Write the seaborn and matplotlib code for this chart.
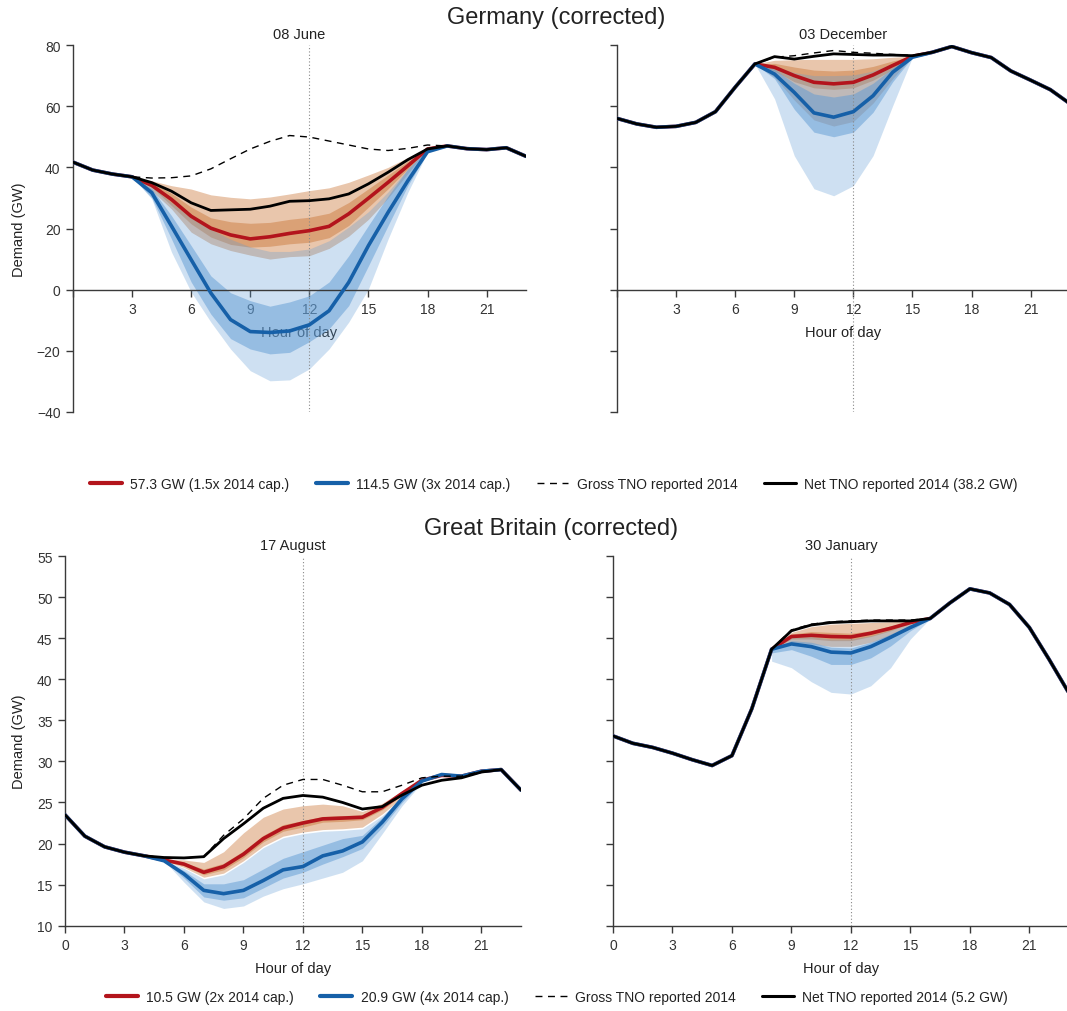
import numpy as np
import pandas as pd
import matplotlib.pyplot as plt
import seaborn as sns
from matplotlib.lines import Line2D

sns.set_style('ticks')
plt.rcParams['font.family'] = ['Liberation Sans', 'DejaVu Sans']
plt.rcParams['text.color'] = '#222222'
plt.rcParams['axes.labelcolor'] = '#222222'
plt.rcParams['xtick.color'] = '#333333'
plt.rcParams['ytick.color'] = '#333333'

hours = list(range(24))

# --- Germany, 08 June ---
de_jun_net = [41.7, 39.1, 37.8, 36.9, 35.0, 32.2, 28.4, 25.9, 26.1, 26.3, 27.3, 28.9,
              29.1, 29.7, 31.3, 34.6, 38.4, 42.5, 46.0, 47.0, 46.1, 45.8, 46.4, 43.6]
de_jun_gross = [41.7, 39.1, 37.8, 36.9, 36.5, 36.6, 37.2, 39.5, 42.8, 46.0, 48.5, 50.4,
                49.9, 48.6, 47.3, 46.0, 45.5, 46.2, 47.3, 47.0, 46.1, 45.8, 46.4, 43.6]
de_jun_red = [41.7, 39.1, 37.8, 36.9, 34.1, 29.5, 24.0, 20.1, 17.9, 16.6, 17.3, 18.4,
              19.3, 20.7, 24.8, 29.9, 35.1, 40.5, 46.0, 47.0, 46.1, 45.8, 46.4, 43.6]
de_jun_blue = [41.7, 39.1, 37.8, 36.9, 31.7, 20.8, 9.8, -1.1, -9.8, -13.7, -14.0, -13.5,
               -11.5, -6.9, 2.4, 14.4, 25.3, 35.6, 45.1, 47.0, 46.1, 45.8, 46.4, 43.6]
de_jun_band_hours = list(range(3, 19))
de_jun_red_outer_hi = [36.9, 35.6, 34.0, 32.9, 31.0, 30.2, 29.7, 30.3, 31.3, 32.4, 33.3, 35.1, 37.5, 40.0, 43.2, 46.0]
de_jun_red_inner_hi = [36.9, 35.0, 31.5, 27.0, 23.5, 22.2, 21.7, 22.0, 23.0, 23.7, 25.0, 28.5, 33.0, 37.5, 42.0, 46.0]
de_jun_red_inner_lo = [36.9, 33.5, 27.5, 21.5, 17.2, 14.8, 13.9, 14.2, 15.0, 15.5, 17.0, 21.0, 27.0, 33.0, 39.5, 46.0]
de_jun_red_outer_lo = [36.9, 32.4, 26.4, 18.8, 15.0, 12.8, 11.3, 10.0, 10.8, 11.1, 13.5, 17.5, 23.0, 30.0, 38.0, 46.0]
de_jun_blue_outer_hi = [36.9, 33.8, 28.5, 23.5, 19.8, 16.5, 14.0, 12.5, 12.5, 13.3, 16.0, 20.5, 25.5, 32.0, 39.5, 46.0]
de_jun_blue_inner_hi = [36.9, 33.0, 24.2, 14.4, 4.5, -1.0, -3.6, -5.4, -4.0, -2.0, 2.5, 11.1, 21.0, 30.7, 39.5, 46.0]
de_jun_blue_inner_lo = [36.9, 30.0, 16.6, 2.5, -8.0, -16.0, -19.4, -21.0, -20.5, -17.0, -12.8, -5.2, 7.8, 21.0, 34.0, 45.0]
de_jun_blue_outer_lo = [36.9, 29.7, 12.3, -0.8, -10.6, -19.4, -26.5, -29.8, -29.5, -25.9, -19.4, -10.6, 0.2, 16.6, 31.8, 45.0]

# --- Germany, 03 December ---
de_dec_net = [56.0, 54.2, 53.1, 53.4, 54.7, 58.2, 66.2, 73.8, 76.2, 75.4, 76.3, 77.1,
              76.9, 76.7, 76.7, 76.5, 77.6, 79.5, 77.5, 75.9, 71.5, 68.5, 65.4, 60.8]
de_dec_gross = [56.0, 54.2, 53.1, 53.4, 54.7, 58.2, 66.2, 73.8, 76.0, 76.5, 77.4, 78.2,
                77.6, 77.3, 76.9, 76.6, 77.6, 79.5, 77.5, 75.9, 71.5, 68.5, 65.4, 60.8]
de_dec_red = [56.0, 54.2, 53.1, 53.4, 54.7, 58.2, 66.2, 73.8, 72.7, 70.0, 67.8, 67.3,
              67.8, 70.2, 73.3, 76.3, 77.6, 79.5, 77.5, 75.9, 71.5, 68.5, 65.4, 60.8]
de_dec_blue = [56.0, 54.2, 53.1, 53.4, 54.7, 58.2, 66.2, 73.8, 70.5, 64.5, 57.8, 56.4,
               58.2, 63.4, 71.1, 76.0, 77.6, 79.5, 77.5, 75.9, 71.5, 68.5, 65.4, 60.8]
de_dec_band_hours = list(range(7, 16))
de_dec_red_outer_hi = [73.8, 75.0, 75.2, 75.3, 75.3, 75.3, 75.5, 76.0, 76.3]
de_dec_red_inner_hi = [73.8, 74.0, 72.8, 71.8, 71.5, 71.8, 73.0, 74.8, 76.3]
de_dec_red_inner_lo = [73.8, 71.5, 68.0, 66.0, 65.5, 66.0, 68.5, 72.0, 76.3]
de_dec_red_outer_lo = [73.8, 69.5, 62.0, 55.5, 53.5, 55.0, 61.0, 69.0, 76.3]
de_dec_blue_outer_hi = [73.8, 73.0, 71.0, 70.0, 70.0, 70.2, 71.5, 74.0, 76.3]
de_dec_blue_inner_hi = [73.8, 72.0, 67.5, 64.0, 63.0, 64.0, 67.5, 72.5, 76.2]
de_dec_blue_inner_lo = [73.8, 69.0, 59.0, 51.5, 50.0, 51.5, 58.0, 68.0, 76.0]
de_dec_blue_outer_lo = [73.8, 62.4, 43.8, 33.0, 30.7, 34.0, 43.8, 60.2, 76.0]

# --- Great Britain, 17 August ---
gb_aug_net = [23.5, 20.9, 19.6, 18.95, 18.5, 18.3, 18.25, 18.4, 20.6, 22.4, 24.3, 25.5,
              25.85, 25.65, 25.0, 24.2, 24.5, 25.9, 27.1, 27.7, 28.0, 28.7, 29.0, 26.5]
gb_aug_gross = [23.5, 20.9, 19.6, 18.95, 18.5, 18.3, 18.25, 18.4, 21.0, 23.0, 25.5, 27.1,
                27.8, 27.8, 27.1, 26.3, 26.3, 27.1, 28.0, 28.2, 28.2, 28.8, 29.0, 26.5]
gb_aug_red = [23.5, 20.9, 19.6, 18.95, 18.5, 18.0, 17.5, 16.5, 17.2, 18.7, 20.6, 21.9,
              22.5, 23.0, 23.1, 23.2, 24.4, 26.1, 27.7, 28.3, 28.2, 28.8, 29.0, 26.5]
gb_aug_blue = [23.5, 20.9, 19.6, 18.95, 18.5, 17.9, 16.3, 14.3, 13.9, 14.3, 15.5, 16.8,
               17.2, 18.5, 19.1, 20.2, 22.6, 25.45, 27.6, 28.4, 28.2, 28.8, 29.0, 26.5]
gb_aug_band_hours = list(range(5, 19))
gb_aug_red_outer_hi = [18.1, 18.0, 17.7, 19.0, 21.3, 23.2, 24.2, 24.6, 24.8, 24.6, 23.9, 24.9, 26.4, 27.8]
gb_aug_red_inner_hi = [18.0, 17.7, 16.9, 17.6, 19.1, 21.0, 22.3, 22.8, 23.3, 23.4, 23.5, 24.6, 26.2, 27.7]
gb_aug_red_inner_lo = [17.9, 17.3, 16.2, 16.8, 18.3, 20.2, 21.5, 22.0, 22.6, 22.7, 22.9, 24.1, 25.9, 27.6]
gb_aug_red_outer_lo = [17.9, 17.1, 15.9, 16.4, 17.9, 19.7, 20.9, 21.4, 21.7, 21.8, 22.0, 23.6, 25.6, 27.5]
gb_aug_blue_outer_hi = [17.9, 17.0, 15.7, 16.2, 17.7, 19.5, 20.7, 21.2, 21.5, 21.6, 21.8, 23.4, 25.5, 27.5]
gb_aug_blue_inner_hi = [17.9, 16.7, 15.1, 15.1, 15.6, 16.9, 18.2, 19.0, 19.8, 20.6, 21.0, 23.2, 25.9, 27.6]
gb_aug_blue_inner_lo = [17.9, 15.8, 13.5, 13.1, 13.4, 14.6, 15.8, 16.5, 17.5, 18.4, 19.4, 22.0, 25.0, 27.5]
gb_aug_blue_outer_lo = [17.9, 15.3, 12.9, 12.1, 12.4, 13.6, 14.5, 15.1, 15.8, 16.5, 17.9, 21.2, 24.6, 27.4]

# --- Great Britain, 30 January ---
gb_jan_net = [33.1, 32.2, 31.7, 31.0, 30.2, 29.5, 30.7, 36.4, 43.65, 45.9, 46.6, 46.9,
              47.0, 47.1, 47.1, 47.1, 47.4, 49.3, 51.0, 50.5, 49.1, 46.3, 42.4, 38.3]
gb_jan_gross = [33.1, 32.2, 31.7, 31.0, 30.2, 29.5, 30.7, 36.4, 43.65, 46.0, 46.7, 47.0,
                47.1, 47.2, 47.2, 47.2, 47.4, 49.3, 51.0, 50.5, 49.1, 46.3, 42.4, 38.3]
gb_jan_red = [33.1, 32.2, 31.7, 31.0, 30.2, 29.5, 30.7, 36.4, 43.65, 45.2, 45.35, 45.2,
              45.15, 45.6, 46.2, 46.9, 47.4, 49.3, 51.0, 50.5, 49.1, 46.3, 42.4, 38.3]
gb_jan_blue = [33.1, 32.2, 31.7, 31.0, 30.2, 29.5, 30.7, 36.4, 43.65, 44.3, 43.97, 43.3,
               43.2, 43.97, 45.1, 46.3, 47.4, 49.3, 51.0, 50.5, 49.1, 46.3, 42.4, 38.3]
gb_jan_band_hours = list(range(8, 17))
gb_jan_red_outer_hi = [43.65, 45.7, 46.4, 46.7, 46.8, 46.9, 47.0, 47.1, 47.4]
gb_jan_red_inner_hi = [43.65, 45.5, 45.8, 45.7, 45.6, 45.9, 46.5, 47.0, 47.4]
gb_jan_red_inner_lo = [43.65, 44.9, 44.9, 44.7, 44.7, 45.2, 45.9, 46.8, 47.4]
gb_jan_red_outer_lo = [43.65, 44.5, 44.3, 44.0, 44.0, 44.5, 45.3, 46.4, 47.4]
gb_jan_blue_outer_hi = [43.65, 45.1, 45.2, 44.9, 44.9, 45.3, 46.0, 46.8, 47.4]
gb_jan_blue_inner_hi = [43.65, 44.7, 44.5, 43.9, 43.8, 44.5, 45.5, 46.6, 47.4]
gb_jan_blue_inner_lo = [43.2, 43.6, 42.8, 41.8, 41.8, 42.6, 44.05, 45.9, 47.4]
gb_jan_blue_outer_lo = [42.2, 41.4, 39.7, 38.4, 38.2, 39.2, 41.4, 44.9, 47.4]

de_labels = ['57.3 GW (1.5x 2014 cap.)', '114.5 GW (3x 2014 cap.)',
             'Gross TNO reported 2014', 'Net TNO reported 2014 (38.2 GW)']
gb_labels = ['10.5 GW (2x 2014 cap.)', '20.9 GW (4x 2014 cap.)',
             'Gross TNO reported 2014', 'Net TNO reported 2014 (5.2 GW)']

RED = '#b3141c'
BLUE = '#1660a8'
RED_FILL = '#c05c12'
BLUE_FILL = '#5f9bd4'
SPINE = '#3a3a3a'


def draw_panel(ax, title, net, gross, red, blue, band_hours, bands, ylim, yticks,
               ylabel=True, zero_spine=False, zero_label=True):
    (r_ohi, r_ihi, r_ilo, r_olo, b_ohi, b_ihi, b_ilo, b_olo) = bands
    ax.fill_between(band_hours, r_olo, r_ohi, color=RED_FILL, alpha=0.35, lw=0, zorder=1)
    ax.fill_between(band_hours, r_ilo, r_ihi, color=RED_FILL, alpha=0.35, lw=0, zorder=1)
    ax.fill_between(band_hours, b_olo, b_ohi, color=BLUE_FILL, alpha=0.3, lw=0, zorder=1)
    ax.fill_between(band_hours, b_ilo, b_ihi, color=BLUE_FILL, alpha=0.5, lw=0, zorder=1)

    df = pd.DataFrame({'hour': hours, 'net': net, 'gross': gross, 'red': red, 'blue': blue})
    sns.lineplot(data=df, x='hour', y='red', ax=ax, color=RED, lw=2.6, zorder=3)
    sns.lineplot(data=df, x='hour', y='blue', ax=ax, color=BLUE, lw=2.6, zorder=3)
    sns.lineplot(data=df, x='hour', y='gross', ax=ax, color='black', lw=1.0,
                 linestyle=(0, (5, 4)), zorder=4)
    sns.lineplot(data=df, x='hour', y='net', ax=ax, color='black', lw=2.0, zorder=5)

    ax.axvline(12, color='#888888', lw=0.8, linestyle=(0, (1, 2)), zorder=2)

    ax.set_xlim(0, 23)
    ax.set_ylim(*ylim)
    ax.set_yticks(yticks)
    xt = list(range(0, 22, 3))
    ax.set_xticks(xt)
    ax.set_xticklabels([str(v) if (v != 0 or zero_label) else '' for v in xt])
    sns.despine(ax=ax)
    for s in ['left', 'bottom']:
        ax.spines[s].set_color(SPINE)
        ax.spines[s].set_linewidth(1.0)
    if zero_spine:
        ax.spines['bottom'].set_position(('data', 0))
    ax.tick_params(direction='out', length=5, width=1, labelsize=10, color=SPINE, pad=4)
    if ylabel:
        ax.set_ylabel('Demand (GW)', fontsize=10.5, labelpad=8)
    else:
        ax.set_ylabel('')
        ax.tick_params(labelleft=False)
    ax.set_xlabel('Hour of day', fontsize=10.5, labelpad=6)
    ax.set_title(title, fontsize=10.5, pad=5)


fig = plt.figure(figsize=(10.67, 10.12), dpi=100)
W, H = 1067, 1012

ax_tl = fig.add_axes([73 / W, 1 - 413 / H, 453 / W, 367 / H])
ax_tr = fig.add_axes([617 / W, 1 - 413 / H, 453 / W, 367 / H])
ax_bl = fig.add_axes([65 / W, 1 - 926.7 / H, 456 / W, 369.7 / H])
ax_br = fig.add_axes([613 / W, 1 - 926.7 / H, 456 / W, 369.7 / H])

de_ticks = [-40, -20, 0, 20, 40, 60, 80]
gb_ticks = [10, 15, 20, 25, 30, 35, 40, 45, 50, 55]

draw_panel(ax_tl, '08 June', de_jun_net, de_jun_gross, de_jun_red, de_jun_blue, de_jun_band_hours,
           (de_jun_red_outer_hi, de_jun_red_inner_hi, de_jun_red_inner_lo, de_jun_red_outer_lo,
            de_jun_blue_outer_hi, de_jun_blue_inner_hi, de_jun_blue_inner_lo, de_jun_blue_outer_lo),
           (-40, 80), de_ticks, ylabel=True, zero_spine=True, zero_label=False)
draw_panel(ax_tr, '03 December', de_dec_net, de_dec_gross, de_dec_red, de_dec_blue, de_dec_band_hours,
           (de_dec_red_outer_hi, de_dec_red_inner_hi, de_dec_red_inner_lo, de_dec_red_outer_lo,
            de_dec_blue_outer_hi, de_dec_blue_inner_hi, de_dec_blue_inner_lo, de_dec_blue_outer_lo),
           (-40, 80), de_ticks, ylabel=False, zero_spine=True, zero_label=False)
draw_panel(ax_bl, '17 August', gb_aug_net, gb_aug_gross, gb_aug_red, gb_aug_blue, gb_aug_band_hours,
           (gb_aug_red_outer_hi, gb_aug_red_inner_hi, gb_aug_red_inner_lo, gb_aug_red_outer_lo,
            gb_aug_blue_outer_hi, gb_aug_blue_inner_hi, gb_aug_blue_inner_lo, gb_aug_blue_outer_lo),
           (10, 55), gb_ticks, ylabel=True)
draw_panel(ax_br, '30 January', gb_jan_net, gb_jan_gross, gb_jan_red, gb_jan_blue, gb_jan_band_hours,
           (gb_jan_red_outer_hi, gb_jan_red_inner_hi, gb_jan_red_inner_lo, gb_jan_red_outer_lo,
            gb_jan_blue_outer_hi, gb_jan_blue_inner_hi, gb_jan_blue_inner_lo, gb_jan_blue_outer_lo),
           (10, 55), gb_ticks, ylabel=False)

fig.text(0.521, 1 - 18 / H, 'Germany (corrected)', ha='center', va='center', fontsize=17)
fig.text(0.516, 1 - 529 / H, 'Great Britain (corrected)', ha='center', va='center', fontsize=17)


def legend_handles():
    return [Line2D([], [], color=RED, lw=3),
            Line2D([], [], color=BLUE, lw=3),
            Line2D([], [], color='black', lw=1.0, linestyle=(0, (5, 4))),
            Line2D([], [], color='black', lw=2.2)]


leg_kw = dict(loc='center', ncol=4, frameon=False, fontsize=10, handlelength=2.3,
              handletextpad=0.6, columnspacing=1.9)
fig.legend(legend_handles(), de_labels, bbox_to_anchor=(0.519, 1 - 485 / H), **leg_kw)
fig.legend(legend_handles(), gb_labels, bbox_to_anchor=(0.522, 1 - 998 / H), **leg_kw)

fig.savefig('out.png', dpi=100)
